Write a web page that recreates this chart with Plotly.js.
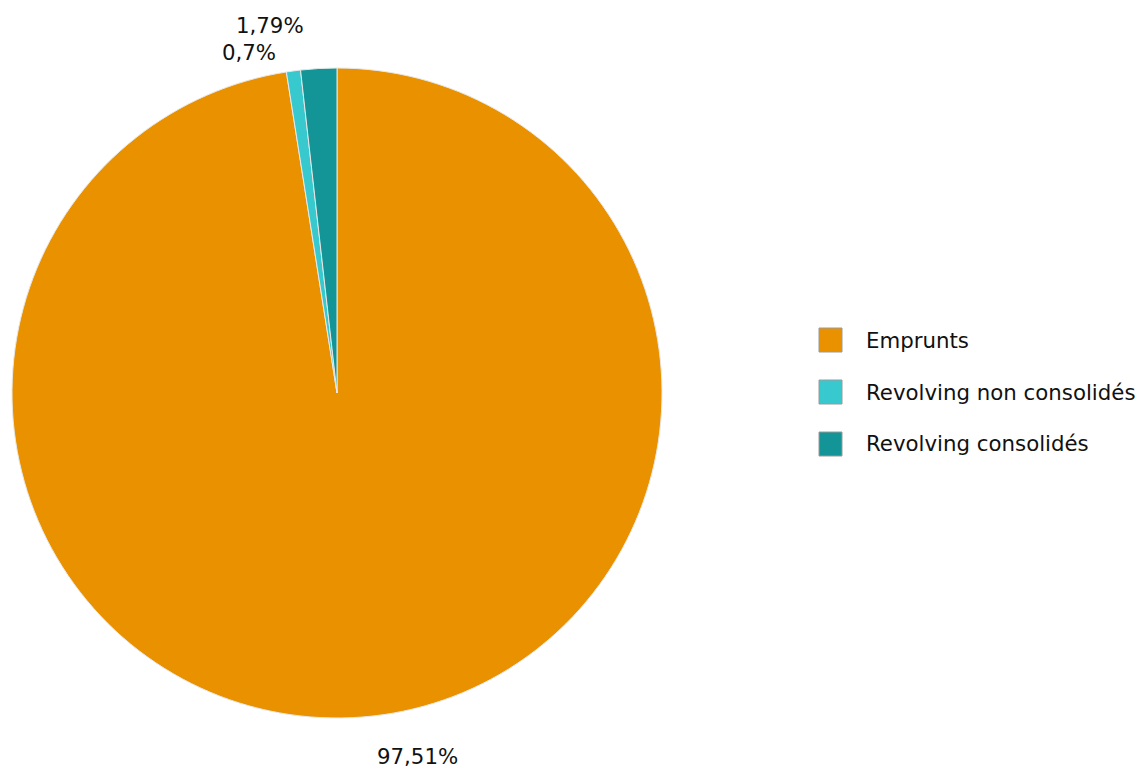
<!DOCTYPE html>
<html><head><meta charset="utf-8">
<script src="https://cdn.plot.ly/plotly-3.0.1.min.js"></script>
<style>body{margin:0;background:#fff}#chart{width:1140px;height:769px}</style>
</head><body><div id="chart"></div>
<script>
const labels = ["Emprunts", "Revolving non consolidés", "Revolving consolidés"];
const values = [97.51, 0.7, 1.79];
const valueText = ["97,51%", "0,7%", "1,79%"];
const colors = ["#EA9100", "#37C9CE", "#139496"];

const W = 1140, H = 769;
const font = {family: "DejaVu Sans, sans-serif", size: 21.3, color: "#111"};

// pie geometry (pixels)
const cx = 337, cy0 = 393, R = 325;

const trace = {
  type: "pie",
  labels: labels,
  values: values,
  text: valueText,
  textinfo: "none",
  sort: false,
  direction: "clockwise",
  rotation: 0,
  marker: {colors: colors, line: {color: "#e8e8e8", width: 1}},
  domain: {x: [(cx - R) / W, (cx + R) / W], y: [1 - (cy0 + R) / H, 1 - (cy0 - R) / H]},
  showlegend: false,
  hoverinfo: "label+text"
};

const shapes = [], annotations = [];

// outside value labels placed from slice mid-angles
const total = values.reduce((a, b) => a + b, 0);
let cum = 0;
values.forEach((v, i) => {
  const mid = (cum + v / 2) / total * 2 * Math.PI;
  cum += v;
  const rr = R + 40;
  let x = cx + rr * Math.sin(mid);
  let y = cy0 - rr * Math.cos(mid);
  const right = x >= cx;
  x += right ? 9 : -10;
  annotations.push({xref: "paper", yref: "paper", x: x / W, y: 1 - y / H,
    xanchor: right ? "left" : "right", yanchor: "middle",
    text: valueText[i], showarrow: false, font: font, _y: y});
});
// simple collision avoidance among upper labels
const upper = annotations.filter(a => a._y < cy0).sort((a, b) => a._y - b._y);
for (let k = 1; k < upper.length; k++) {
  if (Math.abs(upper[k]._y - upper[k - 1]._y) < 27) {
    upper[k - 1]._y -= 3; upper[k - 1].y = 1 - upper[k - 1]._y / H;
    upper[k]._y = upper[k - 1]._y + 27; upper[k].y = 1 - upper[k]._y / H;
  }
}
annotations.forEach(a => delete a._y);

// legend drawn in paper coordinates from the label/colour arrays
labels.forEach((lab, i) => {
  const ly = 340 + i * 52;
  shapes.push({type: "rect", xref: "paper", yref: "paper",
    x0: 819 / W, x1: 842 / W, y0: 1 - (ly + 12) / H, y1: 1 - (ly - 12) / H,
    fillcolor: colors[i], line: {color: "#9a9a9a", width: 1}});
  annotations.push({xref: "paper", yref: "paper", x: 864 / W, y: 1 - ly / H,
    xanchor: "left", yanchor: "middle", text: lab, showarrow: false, font: font});
});

const layout = {
  width: W, height: H,
  margin: {l: 0, r: 0, t: 0, b: 0},
  paper_bgcolor: "#fff",
  font: font,
  showlegend: false,
  shapes: shapes,
  annotations: annotations
};

Plotly.newPlot("chart", [trace], layout, {displayModeBar: false, staticPlot: true});
</script></body></html>
